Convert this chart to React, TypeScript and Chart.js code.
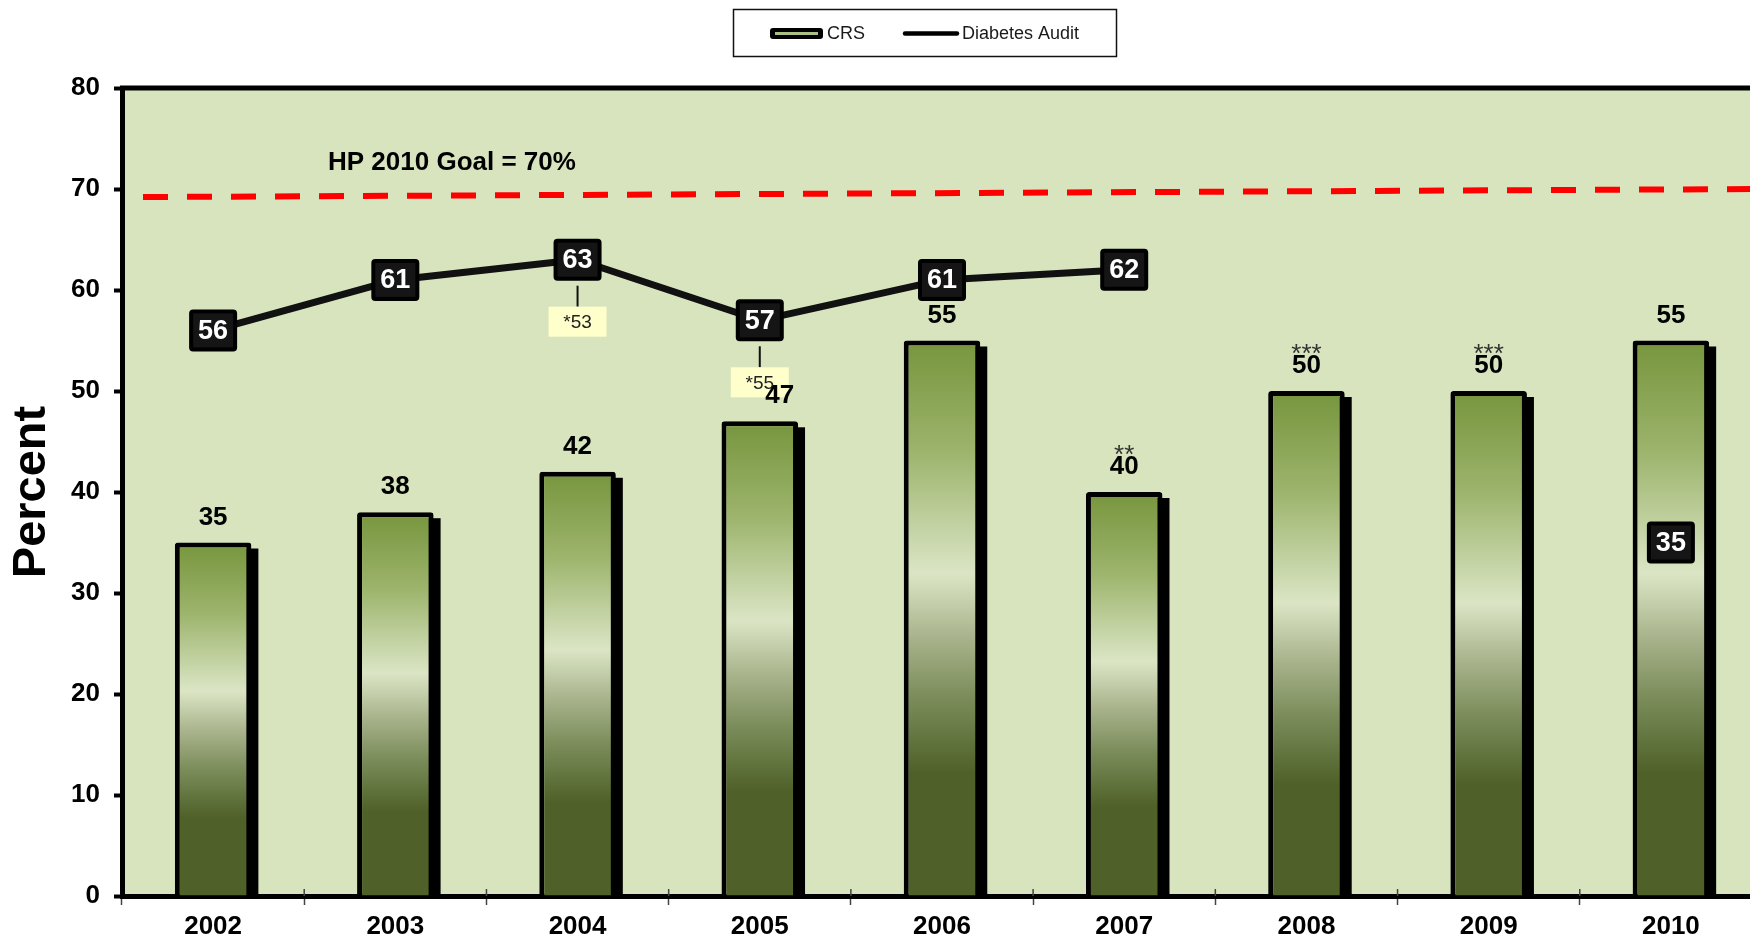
import React, { useEffect, useRef } from "react";
import { Chart, registerables } from "chart.js";

Chart.register(...registerables);

// ---------- data ----------
const years = ["2002", "2003", "2004", "2005", "2006", "2007", "2008", "2009", "2010"];
const crsValues = [35, 38, 42, 47, 55, 40, 50, 50, 55];
const crsMarks = ["", "", "", "", "", "**", "***", "***", ""];
const auditValues: (number | null)[] = [56, 61, 63, 57, 61, 62, null, null, 35];
const auditNotes = ["", "", "*53", "*55", "", "", "", "", ""];
const goalStart = 69.2;
const goalEnd = 70;
const goalLabel = "HP 2010 Goal = 70%";
const yMin = 0;
const yMax = 80;
const yStep = 10;
const legendLabels = ["CRS", "Diabetes Audit"];
const yTitle = "Percent";

const FONT = "'Liberation Sans', Arial, Helvetica, sans-serif";

function barGradient(ctx: any) {
  const chart = ctx.chart;
  if (!chart.chartArea || ctx.type !== "data") return "#77933c";
  const v = ctx.parsed ? ctx.parsed.y : ctx.raw;
  const ys = chart.scales.y;
  const top = ys.getPixelForValue(v);
  const bottom = ys.getPixelForValue(0);
  const g = chart.ctx.createLinearGradient(0, top, 0, bottom);
  g.addColorStop(0, "#77953d");
  g.addColorStop(0.2, "#9cb46c");
  g.addColorStop(0.42, "#dbe5c5");
  g.addColorStop(0.54, "#a6b189");
  g.addColorStop(0.65, "#788a57");
  g.addColorStop(0.78, "#4f6128");
  g.addColorStop(1, "#4f6128");
  return g;
}

function roundRect(ctx: CanvasRenderingContext2D, x: number, y: number, w: number, h: number, r: number) {
  ctx.beginPath();
  ctx.moveTo(x + r, y);
  ctx.lineTo(x + w - r, y);
  ctx.quadraticCurveTo(x + w, y, x + w, y + r);
  ctx.lineTo(x + w, y + h - r);
  ctx.quadraticCurveTo(x + w, y + h, x + w - r, y + h);
  ctx.lineTo(x + r, y + h);
  ctx.quadraticCurveTo(x, y + h, x, y + h - r);
  ctx.lineTo(x, y + r);
  ctx.quadraticCurveTo(x, y, x + r, y);
  ctx.closePath();
}

const decor = {
  id: "decor",
  beforeDraw(chart: any) {
    const { ctx, chartArea: a } = chart;
    ctx.save();
    ctx.fillStyle = "#d7e4bd";
    ctx.fillRect(a.left, a.top, a.right - a.left, a.bottom - a.top);
    ctx.restore();
  },
  beforeDatasetsDraw(chart: any) {
    const { ctx, chartArea: a } = chart;
    const ys = chart.scales.y;
    const xs = chart.scales.x;
    ctx.save();
    // top frame line
    ctx.strokeStyle = "#000";
    ctx.lineWidth = 5;
    ctx.beginPath();
    ctx.moveTo(a.left - 2, a.top);
    ctx.lineTo(a.right, a.top);
    ctx.stroke();
    // small inner part of x ticks (between categories)
    ctx.strokeStyle = "#444";
    ctx.lineWidth = 1.5;
    for (let i = 1; i < years.length; i++) {
      const x = (xs.getPixelForValue(i - 1) + xs.getPixelForValue(i)) / 2;
      ctx.beginPath();
      ctx.moveTo(x, a.bottom);
      ctx.lineTo(x, a.bottom - 7);
      ctx.stroke();
    }
    // goal line
    ctx.strokeStyle = "#ff0000";
    ctx.lineWidth = 6;
    ctx.setLineDash([25, 19]);
    ctx.beginPath();
    ctx.moveTo(a.left + 21, ys.getPixelForValue(goalStart));
    ctx.lineTo(a.right, ys.getPixelForValue(goalEnd));
    ctx.stroke();
    ctx.setLineDash([]);
    // goal label
    ctx.fillStyle = "#000";
    ctx.font = `bold 26px ${FONT}`;
    ctx.textAlign = "left";
    ctx.textBaseline = "middle";
    ctx.fillText(goalLabel, a.left + 206, ys.getPixelForValue(goalEnd) - 26);
    // bar shadows
    const meta = chart.getDatasetMeta(0);
    ctx.fillStyle = "#000";
    meta.data.forEach((bar: any) => {
      const p = bar.getProps(["x", "y", "base", "width"], true);
      ctx.fillRect(p.x - p.width / 2 + 7, p.y + 6, p.width, p.base - p.y - 6);
    });
    ctx.restore();
  },
  afterDatasetsDraw(chart: any) {
    const { ctx } = chart;
    const barMeta = chart.getDatasetMeta(0);
    const lineMeta = chart.getDatasetMeta(1);
    ctx.save();
    // notes under line points
    auditNotes.forEach((note, i) => {
      if (!note || auditValues[i] == null) return;
      const pt = lineMeta.data[i];
      const cy = pt.y + 62;
      ctx.strokeStyle = "#111";
      ctx.lineWidth = 2;
      ctx.beginPath();
      ctx.moveTo(pt.x, pt.y + 26);
      ctx.lineTo(pt.x, cy - 15);
      ctx.stroke();
      ctx.fillStyle = "#ffffcc";
      ctx.fillRect(pt.x - 29, cy - 15, 58, 30);
      ctx.fillStyle = "#222";
      ctx.font = `19px ${FONT}`;
      ctx.textAlign = "center";
      ctx.textBaseline = "middle";
      ctx.fillText(note, pt.x, cy + 1);
    });
    // bar value labels
    barMeta.data.forEach((bar: any, i: number) => {
      let lx = bar.x;
      const ly = bar.y - 25;
      if (auditNotes[i] && auditValues[i] != null) {
        const noteBottom = lineMeta.data[i].y + 62 + 15;
        if (noteBottom > ly - 13) lx += 20;
      }
      ctx.fillStyle = "#000";
      ctx.font = `bold 26px ${FONT}`;
      ctx.textAlign = "center";
      ctx.textBaseline = "middle";
      ctx.fillText(String(crsValues[i]), lx, ly);
      if (crsMarks[i]) {
        ctx.fillStyle = "#333";
        ctx.font = `26px ${FONT}`;
        ctx.textBaseline = "alphabetic";
        ctx.fillText(crsMarks[i], lx, ly - 4);
      }
    });
    // line point boxes
    lineMeta.data.forEach((pt: any, i: number) => {
      const v = auditValues[i];
      if (v == null) return;
      const w = 48;
      const h = 42;
      ctx.fillStyle = "#000";
      roundRect(ctx, pt.x - w / 2, pt.y - h / 2, w, h, 4);
      ctx.fill();
      ctx.fillStyle = "#151515";
      ctx.fillRect(pt.x - w / 2 + 4, pt.y - h / 2 + 4, w - 8, h - 8);
      ctx.fillStyle = "#fff";
      ctx.font = `bold 27px ${FONT}`;
      ctx.textAlign = "center";
      ctx.textBaseline = "middle";
      ctx.fillText(String(v), pt.x, pt.y + 1);
    });
    ctx.restore();
  },
  afterDraw(chart: any) {
    const { ctx } = chart;
    ctx.save();
    // legend frame
    ctx.strokeStyle = "#111";
    ctx.lineWidth = 1.5;
    ctx.strokeRect(733.5, 9.5, 383, 47);
    // CRS swatch
    ctx.fillStyle = "#000";
    roundRect(ctx, 770, 28, 53, 11, 3);
    ctx.fill();
    ctx.fillStyle = "#a9bf86";
    ctx.fillRect(775, 32, 43, 3);
    ctx.fillStyle = "#1a1a1a";
    ctx.font = `18px ${FONT}`;
    ctx.textAlign = "left";
    ctx.textBaseline = "middle";
    ctx.fillText(legendLabels[0], 827, 34);
    // Diabetes Audit swatch
    ctx.strokeStyle = "#000";
    ctx.lineWidth = 4.5;
    ctx.lineCap = "round";
    ctx.beginPath();
    ctx.moveTo(905, 33.5);
    ctx.lineTo(957, 33.5);
    ctx.stroke();
    ctx.fillText(legendLabels[1], 962, 34);
    ctx.restore();
  },
};

export default function App() {
  const ref = useRef<HTMLCanvasElement>(null);
  useEffect(() => {
    Chart.defaults.font.family = FONT;
    const chart = new Chart(ref.current!, {
      type: "bar",
      data: {
        labels: years,
        datasets: [
          {
            type: "bar",
            label: legendLabels[0],
            data: crsValues,
            backgroundColor: barGradient as any,
            borderColor: "#000",
            borderWidth: 5,
            borderSkipped: "bottom",
            borderRadius: { topLeft: 3, topRight: 3 } as any,
            barPercentage: 0.42,
            categoryPercentage: 1,
            order: 1,
          },
          {
            type: "line",
            label: legendLabels[1],
            data: auditValues,
            borderColor: "#111",
            borderWidth: 7,
            pointRadius: 0,
            pointHoverRadius: 0,
            tension: 0,
            spanGaps: false,
            borderJoinStyle: "round",
            borderCapStyle: "round",
            order: 0,
          } as any,
        ],
      },
      options: {
        responsive: false,
        animation: false,
        devicePixelRatio: 1,
        layout: { padding: { top: 88, right: 8, left: 0, bottom: 0 } },
        plugins: { legend: { display: false }, tooltip: { enabled: false } },
        events: [],
        scales: {
          x: {
            type: "category",
            offset: true,
            grid: {
              display: true,
              drawOnChartArea: false,
              drawTicks: true,
              tickLength: 9,
              tickWidth: 1.5,
              tickColor: "#444",
              offset: true,
            },
            border: { display: true, color: "#000", width: 5 },
            ticks: {
              color: "#000",
              font: { size: 26, weight: "bold" },
              padding: 6,
              maxRotation: 0,
              autoSkip: false,
            },
            afterFit: (s: any) => {
              s.height = 46;
            },
          },
          y: {
            min: yMin,
            max: yMax,
            ticks: {
              stepSize: yStep,
              color: "#000",
              font: { size: 26, weight: "bold" },
              padding: 14,
            },
            grid: {
              drawOnChartArea: false,
              drawTicks: true,
              tickLength: 8,
              tickWidth: 4,
              tickColor: "#000",
            },
            border: { display: true, color: "#000", width: 5 },
            title: {
              display: true,
              text: yTitle,
              color: "#000",
              font: { size: 47, weight: "bold" },
              padding: { top: 4, bottom: 0 },
            },
            afterFit: (s: any) => {
              s.width = 122;
            },
          },
        },
      },
      plugins: [decor],
    } as any);
    return () => chart.destroy();
  }, []);
  return (
    <div
      style={{
        position: "fixed",
        left: 0,
        top: 0,
        width: 1750,
        height: 942,
        overflow: "hidden",
        background: "#fff",
      }}
    >
      <canvas ref={ref} width={1770} height={942} style={{ display: "block", width: 1770, height: 942 }} />
    </div>
  );
}
